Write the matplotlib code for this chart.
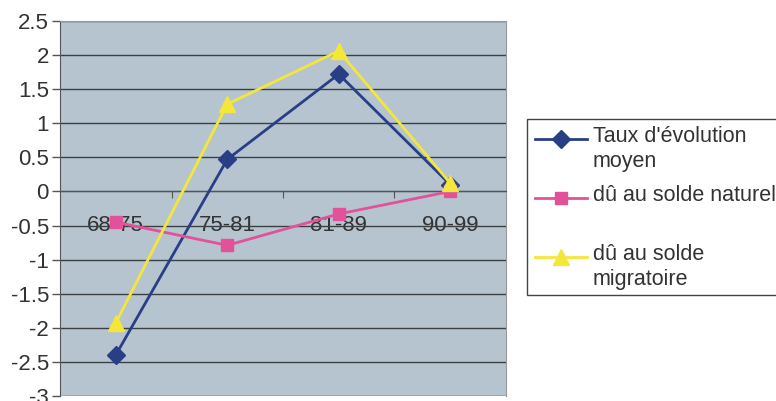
import matplotlib.pyplot as plt
from matplotlib.lines import Line2D

plt.rcParams['font.family'] = ['Liberation Sans', 'DejaVu Sans']

periodes = ['68-75', '75-81', '81-89', '90-99']
taux_moyen = [-2.4, 0.47, 1.72, 0.1]
solde_naturel = [-0.45, -0.79, -0.33, 0.0]
solde_migratoire = [-1.93, 1.28, 2.06, 0.12]

noms = ["Taux d'évolution\nmoyen", 'dû au solde naturel', 'dû au solde\nmigratoire']
couleurs = ['#283f86', '#e2529a', '#f5e63a']
marqueurs = ['D', 's', '^']
tailles = [9, 8.5, 11]

fig = plt.figure(figsize=(7.76, 4.01), dpi=100)
ax = fig.add_axes([60 / 776, 1 - 396 / 401, 446 / 776, 375 / 401])
ax.set_facecolor('#b6c4cf')

x = [i + 0.5 for i in range(len(periodes))]
series = [taux_moyen, solde_naturel, solde_migratoire]
for vals, c, m, s in zip(series, couleurs, marqueurs, tailles):
    ax.plot(x, vals, color=c, marker=m, markersize=s, linewidth=2, zorder=3)

ax.set_xlim(0, 4)
ax.set_ylim(-3, 2.5)
ax.set_yticks([-3 + 0.5 * i for i in range(12)])
ax.set_yticklabels(['%g' % (-3 + 0.5 * i) for i in range(12)], fontsize=16, color='#333333')
ax.yaxis.grid(True, color='#3a3f42', linewidth=1)
ax.set_axisbelow(True)
ax.tick_params(axis='y', length=6, width=1, pad=2, color='#555555')

# axe des x sur y=0
ax.spines['bottom'].set_position(('data', 0))
ax.spines['bottom'].set_color('#555555')
ax.set_xticks([1, 2, 3])
ax.set_xticklabels([])
ax.set_xticks(x, minor=True)
ax.set_xticklabels(periodes, minor=True, fontsize=16, color='#333333')
ax.tick_params(axis='x', which='major', length=5, direction='out', color='#555555')
ax.tick_params(axis='x', which='minor', length=0, pad=17)
ax.spines['left'].set_color('#555555')
ax.spines['top'].set_color('#999999')
ax.spines['right'].set_color('#999999')

# légende
fig.add_artist(plt.Rectangle((527 / 776, 1 - 295 / 401), 260 / 776, 176 / 401,
                             transform=fig.transFigure, facecolor='white',
                             edgecolor='#444444', linewidth=1))
ys = [139, 198, 257]
for nom, c, m, s, yy in zip(noms, couleurs, marqueurs, tailles, ys):
    yf = 1 - yy / 401
    fig.add_artist(Line2D([535 / 776, 587 / 776], [yf, yf], transform=fig.transFigure,
                          color=c, linewidth=2))
    fig.add_artist(Line2D([561 / 776], [yf], transform=fig.transFigure,
                          color=c, marker=m, markersize=s, linestyle='none'))
    fig.text(593 / 776, yf + 13 / 401, nom, fontsize=15.5, va='top', ha='left',
             color='#333333', linespacing=1.25)

fig.savefig('out.png', dpi=100)
